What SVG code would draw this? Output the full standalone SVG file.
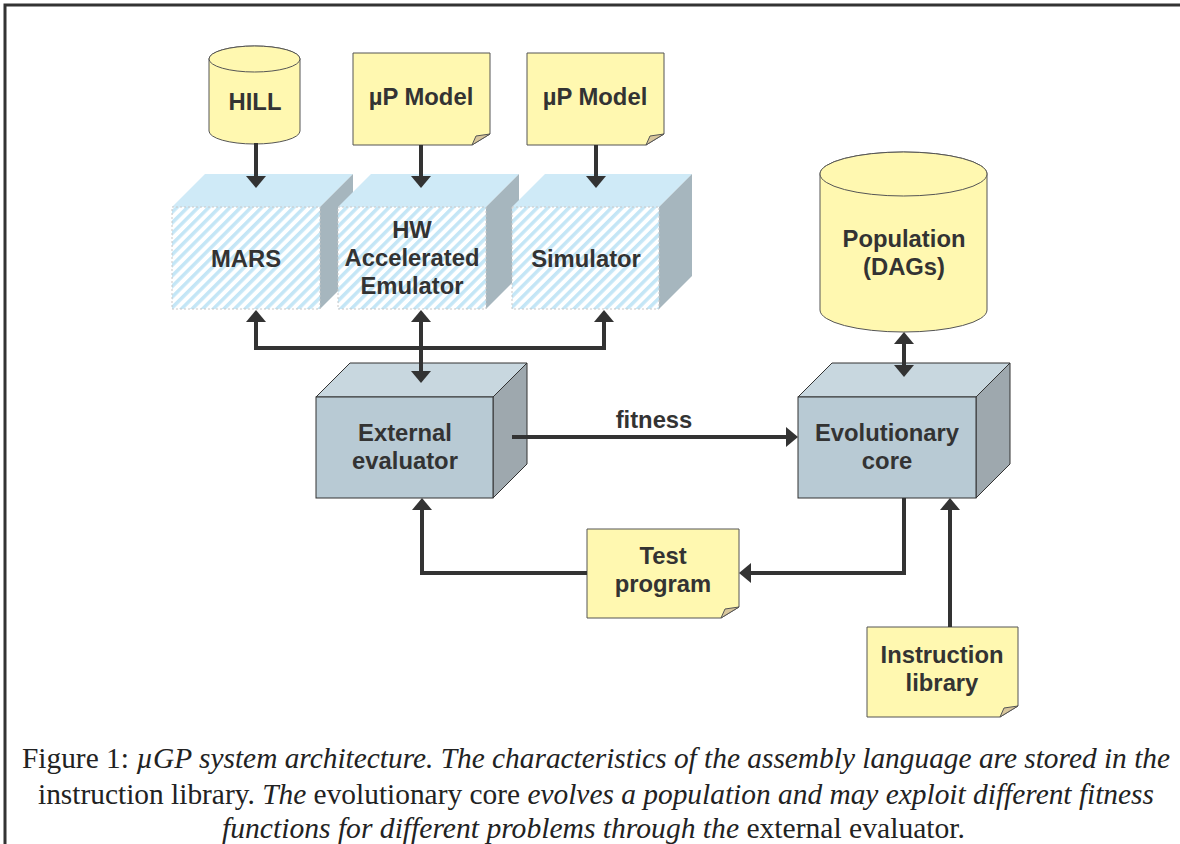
<svg xmlns="http://www.w3.org/2000/svg" width="1180" height="844" viewBox="0 0 1180 844">
<style>
.lbl{font-family:"Liberation Sans",Arial,sans-serif;font-weight:bold;font-size:23.8px;fill:#333;text-anchor:middle}
.cap{font-family:"Liberation Serif","Times New Roman",serif;font-size:29px;fill:#222}
.it{font-style:italic}
.note{fill:#fff8b0;stroke:#555;stroke-width:1}
.fold{fill:#d8c69c;stroke:#555;stroke-width:1}
.cyl{fill:#fff8b0;stroke:#555;stroke-width:1}
.hfront{fill:url(#hatch);stroke:#c8c8c8;stroke-width:1;stroke-dasharray:2 2}
.htop{fill:#cfeaf7}
.hside{fill:#a6b6be}
.gfront{fill:#b8cad4;stroke:#333;stroke-width:1}
.gtop{fill:#c8d7df;stroke:#333;stroke-width:1}
.gside{fill:#9ea8ae;stroke:#333;stroke-width:1}
.conn{fill:none;stroke:#333;stroke-width:4}
</style>
<defs>
<pattern id="hatch" patternUnits="userSpaceOnUse" width="7.5" height="7.5" patternTransform="rotate(45)">
<rect width="7.5" height="7.5" fill="#ffffff"/>
<rect width="3.5" height="7.5" fill="#c4e6f6"/>
</pattern>
<marker id="ah" viewBox="0 0 12 20" refX="2" refY="10" markerWidth="12" markerHeight="20" markerUnits="userSpaceOnUse" orient="auto-start-reverse">
<path d="M0,0 L12,10 L0,20 z" fill="#333"/>
</marker>
</defs>

<g id="frame">
<path d="M5,844 V5 H1180" fill="none" stroke="#333" stroke-width="3"/>
</g>

<g id="hill">
<path class="cyl" d="M209,59 V131 A45.5,13 0 0 0 300,131 V59 A45.5,13 0 0 0 209,59 z"/>
<ellipse class="cyl" cx="254.5" cy="59" rx="45.5" ry="13"/>
<text class="lbl" x="255" y="110">HILL</text>
</g>

<g id="upmodel1">
<path class="note" d="M353,53 H490 V134 L472,145 H353 z"/>
<path class="fold" d="M472,145 L476,136 L490,134 z"/>
<text class="lbl" x="421" y="105">µP Model</text>
</g>

<g id="upmodel2">
<path class="note" d="M527,53 H664 V134 L646,145 H527 z"/>
<path class="fold" d="M646,145 L650,136 L664,134 z"/>
<text class="lbl" x="595" y="105">µP Model</text>
</g>

<g id="mars">
<polygon class="htop" points="172,207 205,174 353,174 320,207"/>
<polygon class="hside" points="320,207 353,174 353,276 320,309"/>
<rect class="hfront" x="172" y="207" width="148" height="102"/>
<text class="lbl" x="246" y="267">MARS</text>
</g>

<g id="hwemu">
<polygon class="htop" points="338,207 371,174 519,174 486,207"/>
<polygon class="hside" points="486,207 519,174 519,276 486,309"/>
<rect class="hfront" x="338" y="207" width="148" height="102"/>
<text class="lbl" x="412" y="238">HW</text>
<text class="lbl" x="412" y="266">Accelerated</text>
<text class="lbl" x="412" y="294">Emulator</text>
</g>

<g id="simulator">
<polygon class="htop" points="512,207 545,174 692,174 659,207"/>
<polygon class="hside" points="659,207 692,174 692,276 659,309"/>
<rect class="hfront" x="512" y="207" width="147" height="102"/>
<text class="lbl" x="586" y="267">Simulator</text>
</g>

<g id="population">
<path class="cyl" d="M820,174 V310 A83.5,22 0 0 0 987,310 V174 A83.5,22 0 0 0 820,174 z"/>
<ellipse class="cyl" cx="903.5" cy="174" rx="83.5" ry="22"/>
<text class="lbl" x="904" y="247">Population</text>
<text class="lbl" x="904" y="275">(DAGs)</text>
</g>

<g id="exteval">
<polygon class="gtop" points="316,397 350,363 527,363 493,397"/>
<polygon class="gside" points="493,397 527,363 527,464 493,498"/>
<rect class="gfront" x="316" y="397" width="177" height="101"/>
<text class="lbl" x="405" y="441">External</text>
<text class="lbl" x="405" y="469">evaluator</text>
</g>

<g id="evocore">
<polygon class="gtop" points="798,397 832,363 1010,363 976,397"/>
<polygon class="gside" points="976,397 1010,363 1010,464 976,498"/>
<rect class="gfront" x="798" y="397" width="178" height="101"/>
<text class="lbl" x="887" y="441">Evolutionary</text>
<text class="lbl" x="887" y="469">core</text>
</g>

<g id="testprog">
<path class="note" d="M587,529 H739 V607 L721,618 H587 z"/>
<path class="fold" d="M721,618 L725,609 L739,607 z"/>
<text class="lbl" x="663" y="564">Test</text>
<text class="lbl" x="663" y="592">program</text>
</g>

<g id="instrlib">
<path class="note" d="M867,627 H1018 V706 L1000,717 H867 z"/>
<path class="fold" d="M1000,717 L1004,708 L1018,706 z"/>
<text class="lbl" x="942" y="663">Instruction</text>
<text class="lbl" x="942" y="691">library</text>
</g>

<g id="connectors">
<path class="conn" d="M256,143 V178" marker-end="url(#ah)"/>
<path class="conn" d="M421,145 V178" marker-end="url(#ah)"/>
<path class="conn" d="M596,145 V178" marker-end="url(#ah)"/>
<path class="conn" d="M256,320 V348 H604 V320" marker-start="url(#ah)" marker-end="url(#ah)"/>
<path class="conn" d="M421,320 V373" marker-start="url(#ah)" marker-end="url(#ah)"/>
<path class="conn" d="M512,437 H788" marker-end="url(#ah)"/>
<text class="lbl" x="654" y="428">fitness</text>
<path class="conn" d="M904,342 V367" marker-start="url(#ah)" marker-end="url(#ah)"/>
<path class="conn" d="M904,498 V573 H749" marker-end="url(#ah)"/>
<path class="conn" d="M587,573 H422 V508" marker-end="url(#ah)"/>
<path class="conn" d="M950,627 V508" marker-end="url(#ah)"/>
</g>

<g id="caption">
<text class="cap" x="22" y="768" textLength="1148" lengthAdjust="spacingAndGlyphs">Figure 1: <tspan class="it">µGP system architecture. The characteristics of the assembly language are stored in the</tspan></text>
<text class="cap" x="38" y="804" textLength="1116" lengthAdjust="spacingAndGlyphs">instruction library. <tspan class="it">The</tspan> evolutionary core <tspan class="it">evolves a population and may exploit different fitness</tspan></text>
<text class="cap" x="222" y="838" textLength="743" lengthAdjust="spacingAndGlyphs"><tspan class="it">functions for different problems through the</tspan> external evaluator.</text>
</g>
</svg>
